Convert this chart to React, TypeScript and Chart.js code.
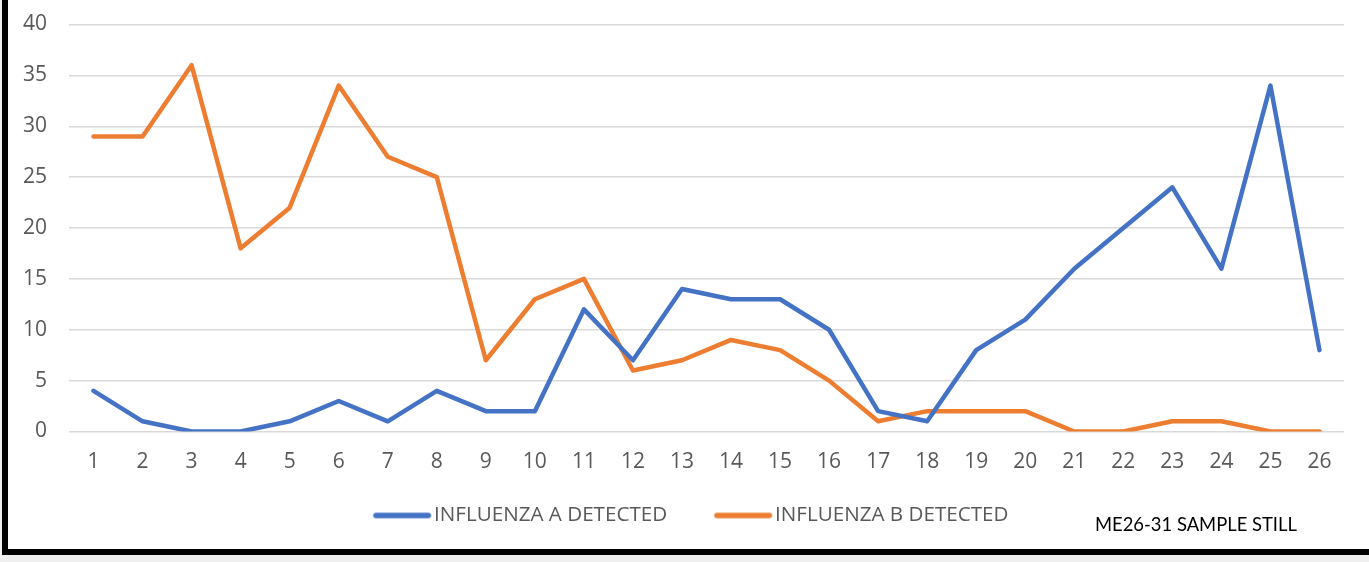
import React, { useEffect, useRef } from "react";
import { Chart, registerables } from "chart.js";

Chart.register(...registerables);

const categories = ["1","2","3","4","5","6","7","8","9","10","11","12","13","14","15","16","17","18","19","20","21","22","23","24","25","26"];
const influenzaA = [4,1,0,0,1,3,1,4,2,2,12,7,14,13,13,10,2,1,8,11,16,20,24,16,34,8];
const influenzaB = [29,29,36,18,22,34,27,25,7,13,15,6,7,9,8,5,1,2,2,2,0,0,1,1,0,0];
const yTicks = [0,5,10,15,20,25,30,35,40];
const seriesNames = ["INFLUENZA A DETECTED", "INFLUENZA B DETECTED"];
const footnote = "ME26-31 SAMPLE STILL";

const BLUE = "#4472C4";
const ORANGE = "#ED7D31";
const TEXT = "#595959";
const FONT = "'Open Sans', 'Noto Sans', sans-serif";
const LEGEND_SIZE = 20.6;
const TICK_SIZE = 21;

// legend marker image (drawn centred on the legend box); contains a 58px line
function makeLegendLine(color: string): HTMLCanvasElement {
  const c = document.createElement("canvas");
  c.width = 100;
  c.height = 10;
  const ctx = c.getContext("2d")!;
  ctx.strokeStyle = color;
  ctx.lineWidth = 5.5;
  ctx.lineCap = "round";
  ctx.beginPath();
  ctx.moveTo(42.2, 5);
  ctx.lineTo(94.6, 5);
  ctx.stroke();
  return c;
}

export default function App() {
  const ref = useRef<HTMLCanvasElement>(null);

  useEffect(() => {
    document.body.style.margin = "0";
    if (!ref.current) return;
    const lineA = makeLegendLine(BLUE);
    const lineB = makeLegendLine(ORANGE);
    const chart = new Chart(ref.current, {
      type: "line",
      data: {
        labels: categories,
        datasets: [
          {
            label: seriesNames[0],
            data: influenzaA,
            borderColor: BLUE,
            backgroundColor: BLUE,
            borderWidth: 4.5,
            pointRadius: 0,
            pointHoverRadius: 0,
            tension: 0,
            borderCapStyle: "round",
            borderJoinStyle: "round",
            pointStyle: lineA as any,
          },
          {
            label: seriesNames[1],
            data: influenzaB,
            borderColor: ORANGE,
            backgroundColor: ORANGE,
            borderWidth: 4.5,
            pointRadius: 0,
            pointHoverRadius: 0,
            tension: 0,
            borderCapStyle: "round",
            borderJoinStyle: "round",
            pointStyle: lineB as any,
          },
        ],
      },
      options: {
        responsive: false,
        animation: false,
        layout: { padding: { top: 24.5, right: 25, bottom: 13.2, left: 0 } },
        plugins: {
          tooltip: { enabled: false },
          legend: {
            position: "bottom",
            labels: {
              usePointStyle: true,
              pointStyleWidth: 80.2,
              padding: 17.5,
              color: TEXT,
              font: { family: FONT, size: LEGEND_SIZE },
            },
          },
        },
        scales: {
          x: {
            offset: true,
            grid: { display: false, drawTicks: false },
            border: { display: false },
            ticks: { color: TEXT, font: { family: FONT, size: TICK_SIZE }, padding: 18, maxRotation: 0 },
            afterFit: (s: any) => { s.height = 56.2; s.paddingLeft = 0; s.paddingRight = 0; },
          },
          y: {
            min: 0,
            max: 40,
            afterBuildTicks: (s: any) => { s.ticks = yTicks.map((v) => ({ value: v })); },
            grid: { color: "#d9d9d9", lineWidth: 1.5, drawTicks: false },
            border: { display: false },
            ticks: { color: TEXT, font: { family: FONT, size: TICK_SIZE }, padding: 22 },
            afterFit: (s: any) => { s.width = 61; s.paddingTop = 0; s.paddingBottom = 0; },
          },
        },
      },
    });
    return () => chart.destroy();
  }, []);

  return (
    <div style={{ position: "fixed", left: 0, top: 0, width: 1369, height: 562, background: "#efefef", overflow: "hidden" }}>
      <div style={{ position: "absolute", left: 2, top: 0, width: 1367, height: 555, background: "#fff", borderLeft: "6px solid #000", borderBottom: "6px solid #000", boxSizing: "border-box" }} />
      <canvas ref={ref} width={1361} height={549} style={{ position: "absolute", left: 8, top: 0, width: 1361, height: 549 }} />
      <div style={{ position: "absolute", left: 1095, top: 512, fontFamily: "Lato, 'Open Sans', sans-serif", fontSize: 18.4, color: "#000", whiteSpace: "nowrap", lineHeight: "24px" }}>{footnote}</div>
    </div>
  );
}
